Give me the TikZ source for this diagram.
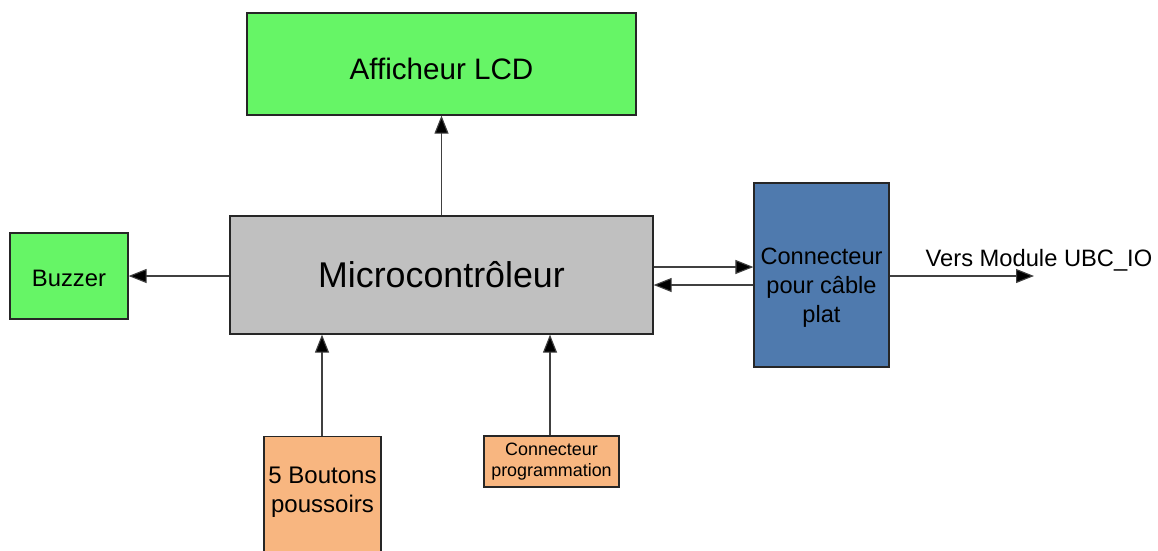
\documentclass[tikz,border=0pt]{standalone}
\usepackage{fontspec}
\setmainfont{Liberation Sans}
\usetikzlibrary{arrows.meta,calc}

\definecolor{lcdgreen}{RGB}{102,245,102}
\definecolor{mcugray}{RGB}{192,192,192}
\definecolor{connblue}{RGB}{79,122,174}
\definecolor{inorange}{RGB}{248,182,128}

\tikzset{
  block/.style={rectangle, draw=black!85, line width=1.2pt, inner sep=0pt,
                align=center, text=black},
  greenblock/.style={block, fill=lcdgreen},
  grayblock/.style={block, fill=mcugray},
  blueblock/.style={block, fill=connblue},
  orangeblock/.style={block, fill=inorange},
  txt/.style={inner sep=0pt, align=center, text=black},
  wire/.style={draw=black!75, line width=1.1pt,
               -{Triangle[length=18pt,width=14pt,fill=black]}},
}

\begin{document}
\begin{tikzpicture}[x=1pt,y=-1pt]
  \useasboundingbox (0,0) rectangle (1158,550);
  \clip (0,0) rectangle (1158,550);

  % blocks
  \node[greenblock, minimum width=389, minimum height=102] (lcd) at (441.5,64) {};
  \node[txt, font=\fontsize{29.6}{35}\selectfont] (lcdlabel)
        at ([yshift=-5pt]lcd.center) {Afficheur LCD};
  \node[grayblock, minimum width=423, minimum height=118,
        font=\fontsize{35.8}{42}\selectfont] (mcu) at (441.5,275) {Microcontrôleur};
  \node[greenblock, minimum width=118, minimum height=86] (buzzer) at (69,276) {};
  \node[txt, font=\fontsize{23.8}{28}\selectfont] (buzzerlabel)
        at ([yshift=-2pt]buzzer.center) {Buzzer};
  \node[blueblock, minimum width=135, minimum height=184] (conn) at (821.5,275) {};
  \node[txt, font=\fontsize{23.6}{29}\selectfont] (connlabel)
        at ([yshift=-13pt]conn.center) {Connecteur\\pour câble\\plat};
  \node[orangeblock, minimum width=117, minimum height=130, anchor=north]
        (btn) at (322.5,436) {};
  \node[txt, font=\fontsize{24}{28.5}\selectfont] (btnlabel)
        at (322.5,492) {5 Boutons\\poussoirs};
  \node[orangeblock, minimum width=135, minimum height=51,
        font=\fontsize{17.9}{21.5}\selectfont] (prog) at (551.5,461.5)
        {Connecteur\\programmation};

  % external link
  \coordinate (ubc) at (1034,276);
  \node[txt, font=\fontsize{23.7}{28}\selectfont] (ubclabel) at (1039,260)
        {Vers Module UBC\_IO};

  % connections
  \draw[wire] (mcu.north) -- (lcd.south);
  \draw[wire] (mcu.west |- buzzer.east) -- (buzzer.east);
  \draw[wire] ([yshift=8pt]mcu.east) -- ([yshift=8pt]mcu.east -| conn.west);
  \draw[wire] ([yshift=-10pt]conn.west) -- ([yshift=-10pt]conn.west -| mcu.east);
  \draw[wire] (conn.east |- ubc) -- (ubc);
  \draw[wire] (btn.north -| 322,0) -- (mcu.south -| 322,0);
  \draw[wire] (prog.north -| 550,0) -- (mcu.south -| 550,0);
\end{tikzpicture}
\end{document}
